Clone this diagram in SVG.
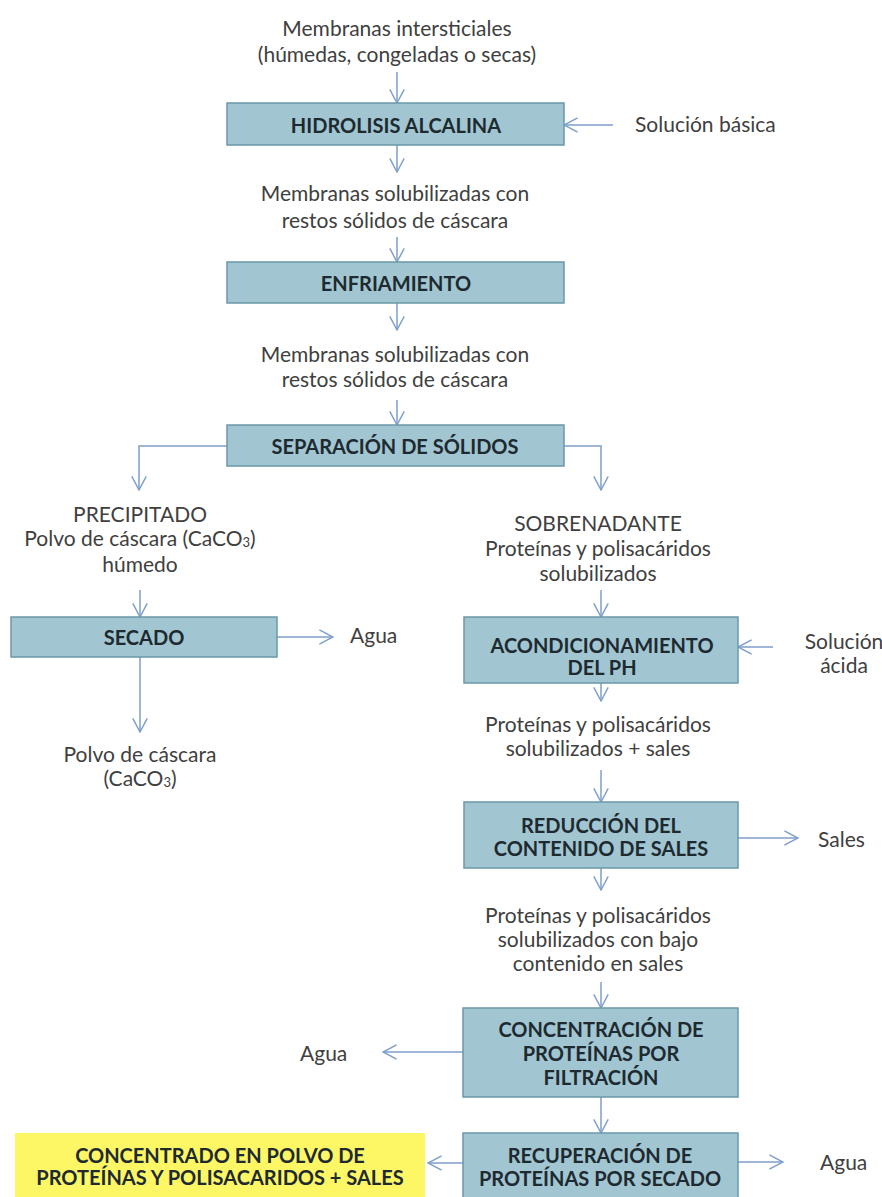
<svg xmlns="http://www.w3.org/2000/svg" width="882" height="1197" viewBox="0 0 882 1197">
<style>
.box{fill:#A1C6D2;stroke:#6A98A8;stroke-width:1.5}
.yel{fill:#FDF765;stroke:none}
.t{font-family:Lato,"Liberation Sans",sans-serif;font-size:21px;fill:#404040;text-anchor:middle;dominant-baseline:central}
.s{text-anchor:start}
.b{font-family:Lato,"Liberation Sans",sans-serif;font-size:20px;font-weight:bold;fill:#1E2A30;text-anchor:middle;dominant-baseline:central}
.c{fill:none;stroke:#7E9FCB;stroke-width:1.5;marker-end:url(#ah)}
</style>
<defs>
<marker id="ah" viewBox="0 0 10 10" refX="9.5" refY="5" markerWidth="16" markerHeight="16" markerUnits="userSpaceOnUse" orient="auto">
<path d="M1,0.5 L9.5,5 L1,9.5" fill="none" stroke="#7E9FCB" stroke-width="0.9"/>
</marker>
</defs>
<rect width="882" height="1197" fill="#ffffff"/>
<g id="connectors">
<line class="c" x1="397" y1="72" x2="397" y2="103"/>
<line class="c" x1="613" y1="125" x2="564" y2="125"/>
<line class="c" x1="397" y1="145" x2="397" y2="172"/>
<line class="c" x1="397" y1="237" x2="397" y2="262"/>
<line class="c" x1="397" y1="303" x2="397" y2="330"/>
<line class="c" x1="397" y1="400" x2="397" y2="425"/>
<polyline class="c" points="227,446 139,446 139,490"/>
<polyline class="c" points="564,446 601,446 601,490"/>
<line class="c" x1="140" y1="590" x2="140" y2="617"/>
<line class="c" x1="601" y1="590" x2="601" y2="617"/>
<line class="c" x1="277" y1="637" x2="333" y2="637"/>
<line class="c" x1="140" y1="657" x2="140" y2="732"/>
<line class="c" x1="773" y1="647" x2="738" y2="647"/>
<line class="c" x1="601" y1="683" x2="601" y2="701"/>
<line class="c" x1="601" y1="770" x2="601" y2="802"/>
<line class="c" x1="738" y1="838" x2="798" y2="838"/>
<line class="c" x1="601" y1="868" x2="601" y2="890"/>
<line class="c" x1="601" y1="982" x2="601" y2="1008"/>
<line class="c" x1="463" y1="1052" x2="383" y2="1052"/>
<line class="c" x1="601" y1="1097" x2="601" y2="1133"/>
<line class="c" x1="463" y1="1163" x2="428" y2="1163"/>
<line class="c" x1="738" y1="1162" x2="783" y2="1162"/>
</g>
<g id="in-membranas">
<text class="t" x="397" y="27">Membranas intersticiales</text>
<text class="t" x="397" y="53">(húmedas, congeladas o secas)</text>
</g>
<g id="hidrolisis">
<rect class="box" x="227" y="103" width="337" height="42"/>
<text class="b" x="396" y="125">HIDROLISIS ALCALINA</text>
</g>
<g id="sol-basica"><text class="t s" x="635" y="123">Solución básica</text></g>
<g id="membranas-sol-1">
<text class="t" x="395" y="192">Membranas solubilizadas con</text>
<text class="t" x="395" y="219">restos sólidos de cáscara</text>
</g>
<g id="enfriamiento">
<rect class="box" x="227" y="262" width="337" height="41"/>
<text class="b" x="396" y="283">ENFRIAMIENTO</text>
</g>
<g id="membranas-sol-2">
<text class="t" x="395" y="353">Membranas solubilizadas con</text>
<text class="t" x="395" y="378">restos sólidos de cáscara</text>
</g>
<g id="separacion">
<rect class="box" x="227" y="425" width="337" height="41"/>
<text class="b" x="395" y="446">SEPARACIÓN DE SÓLIDOS</text>
</g>
<g id="precipitado">
<text class="t" x="140" y="513">PRECIPITADO</text>
<text class="t" x="140" y="537">Polvo de cáscara (CaCO<tspan font-size="13" dy="5">3</tspan><tspan dy="-5">)</tspan></text>
<text class="t" x="140" y="563">húmedo</text>
</g>
<g id="sobrenadante">
<text class="t" x="598" y="522">SOBRENADANTE</text>
<text class="t" x="598" y="547">Proteínas y polisacáridos</text>
<text class="t" x="598" y="572">solubilizados</text>
</g>
<g id="secado">
<rect class="box" x="11" y="617" width="266" height="40"/>
<text class="b" x="144" y="637">SECADO</text>
</g>
<g id="agua-1"><text class="t s" x="350" y="634">Agua</text></g>
<g id="polvo">
<text class="t" x="140" y="753">Polvo de cáscara</text>
<text class="t" x="140" y="777">(CaCO<tspan font-size="13" dy="5">3</tspan><tspan dy="-5">)</tspan></text>
</g>
<g id="acondicionamiento">
<rect class="box" x="464" y="617" width="274" height="66"/>
<text class="b" x="602" y="645">ACONDICIONAMIENTO</text>
<text class="b" x="602" y="667">DEL PH</text>
</g>
<g id="sol-acida">
<text class="t" x="844" y="640" font-size="18.5">Solución</text>
<text class="t" x="844" y="664" font-size="18.5">ácida</text>
</g>
<g id="prot-sales">
<text class="t" x="598" y="723">Proteínas y polisacáridos</text>
<text class="t" x="598" y="747">solubilizados + sales</text>
</g>
<g id="reduccion">
<rect class="box" x="464" y="802" width="274" height="66"/>
<text class="b" x="601" y="825">REDUCCIÓN DEL</text>
<text class="b" x="601" y="848">CONTENIDO DE SALES</text>
</g>
<g id="sales"><text class="t s" x="818" y="838">Sales</text></g>
<g id="prot-bajo">
<text class="t" x="598" y="914">Proteínas y polisacáridos</text>
<text class="t" x="598" y="938">solubilizados con bajo</text>
<text class="t" x="598" y="962">contenido en sales</text>
</g>
<g id="concentracion">
<rect class="box" x="463" y="1008" width="275" height="89"/>
<text class="b" x="601" y="1029">CONCENTRACIÓN DE</text>
<text class="b" x="601" y="1053">PROTEÍNAS POR</text>
<text class="b" x="601" y="1077">FILTRACIÓN</text>
</g>
<g id="agua-2"><text class="t s" x="300" y="1052">Agua</text></g>
<g id="recuperacion">
<rect class="box" x="463" y="1133" width="275" height="66"/>
<text class="b" x="600" y="1155">RECUPERACIÓN DE</text>
<text class="b" x="600" y="1178">PROTEÍNAS POR SECADO</text>
</g>
<g id="agua-3"><text class="t s" x="820" y="1161">Agua</text></g>
<g id="concentrado">
<rect class="yel" x="15" y="1133" width="410" height="66"/>
<text class="b" x="220" y="1155">CONCENTRADO EN POLVO DE</text>
<text class="b" x="220" y="1177">PROTEÍNAS Y POLISACARIDOS + SALES</text>
</g>
</svg>
